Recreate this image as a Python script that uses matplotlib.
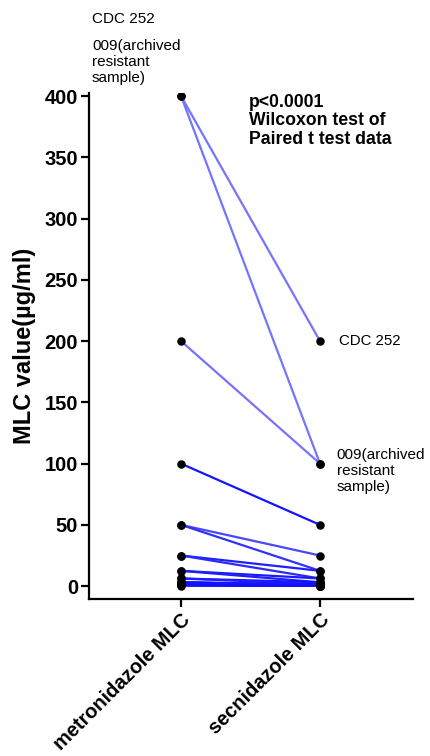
import matplotlib
matplotlib.use("Agg")
import matplotlib.pyplot as plt

plt.rcParams["font.family"] = ["Liberation Sans", "DejaVu Sans"]

# paired MLC values (µg/ml), one entry per isolate
groups = ["metronidazole MLC", "secnidazole MLC"]
metronidazole = [400, 400, 200, 100, 50, 50, 25, 25, 12.5, 12.5, 6.25, 6.25,
                 3.125, 3.125, 3.125, 1.56, 1.56, 0.78, 0.78, 0.39]
secnidazole = [200, 100, 100, 50, 25, 12.5, 12.5, 6.25, 6.25, 3.125, 3.125, 1.56,
               1.56, 0.78, 0.39, 0.78, 0.39, 0.39, 0.2, 0.2]
line_colors = ["#7474ff", "#7474ff", "#7474ff", "#1414ff", "#4848ff", "#3030ff",
               "#2020ff", "#2a2aff", "#1a1aff", "#2020ff", "#1010ff", "#2020ff",
               "#1010ff", "#1818ff", "#1010ff", "#2020ff", "#1010ff", "#1818ff",
               "#1010ff", "#1010ff"]
yticks = [0, 50, 100, 150, 200, 250, 300, 350, 400]

fig = plt.figure(figsize=(4.3, 7.56), dpi=100)
ax = fig.add_axes([89 / 430, 1 - 599 / 756, 324 / 430, 506 / 756])

for m, s, c in zip(metronidazole, secnidazole, line_colors):
    ax.plot([0, 1], [m, s], color=c, linewidth=1.6, zorder=2)
ax.scatter([0] * len(metronidazole) + [1] * len(secnidazole),
           metronidazole + secnidazole, s=26, color="black", zorder=3)

ax.set_xlim(-0.662, 1.669)
ax.set_ylim(-10.5, 402.5)
ax.set_yticks(yticks)
ax.set_xticks([0, 1])
ax.set_xticklabels(groups, rotation=45, ha="right", rotation_mode="anchor",
                   fontsize=14.4, fontweight="bold")
for lbl in ax.get_yticklabels():
    lbl.set_fontsize(14.5)
    lbl.set_fontweight("bold")
ax.set_ylabel("MLC value(µg/ml)", fontsize=17, fontweight="bold", labelpad=6)

for side in ("top", "right"):
    ax.spines[side].set_visible(False)
for side in ("left", "bottom"):
    ax.spines[side].set_linewidth(1.6)
ax.tick_params(axis="both", direction="out", length=6, width=1.6, pad=2)

# labels for the two outliers
ax.annotate("CDC 252", xy=(1, 200), xytext=(14, 0), textcoords="offset points",
            fontsize=10.8, va="center", ha="left")
ax.annotate("009(archived\nresistant\nsample)", xy=(1, 100), xytext=(12, 11),
            textcoords="offset points", fontsize=11, va="top", ha="left",
            linespacing=1.17)
ax.annotate("p<0.0001\nWilcoxon test of\nPaired t test data", xy=(0.5, 402),
            xytext=(-1, 0), textcoords="offset points", fontsize=12.7,
            fontweight="bold", va="top", ha="left", linespacing=1.12)

fig.text(92 / 430, 1 - 19 / 756, "CDC 252", fontsize=11, va="center", ha="left")
fig.text(92 / 430, 1 - 39 / 756, "009(archived\nresistant\nsample)", fontsize=11,
         va="top", ha="left", linespacing=1.17)

fig.savefig("out.png", dpi=100)
